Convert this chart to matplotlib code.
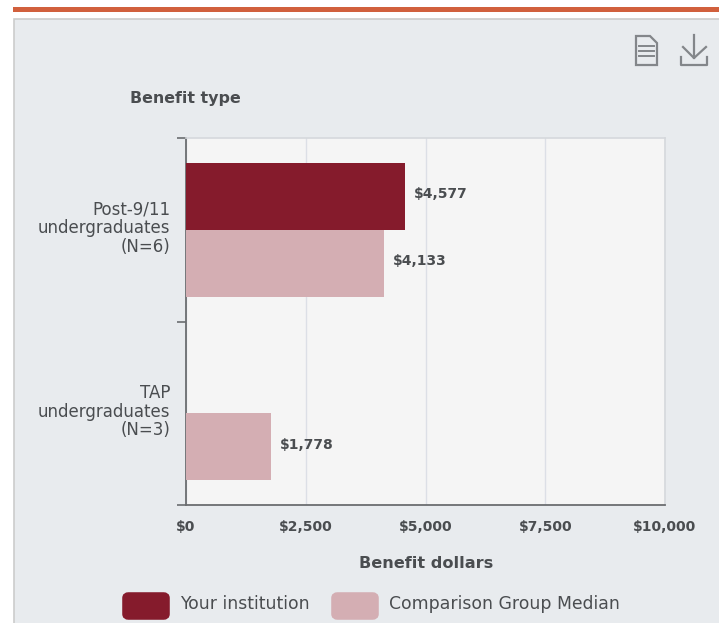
#!/usr/bin/env python3
"""Benefit dollars by type, your institution vs comparison group"""
import matplotlib
matplotlib.use('Agg')
import matplotlib.pyplot as plt
from matplotlib.lines import Line2D
from matplotlib.patches import FancyBboxPatch, Rectangle, Polygon
import numpy as np

# DATA
categories = ['Post-9/11\nundergraduates\n(N=6)', 'TAP\nundergraduates\n(N=3)']
institution = [4577, None]
comparison = [4133, 1778]
xticks = [0, 2500, 5000, 7500, 10000]
series_names = ['Your institution', 'Comparison Group Median']

W, H = 719, 623
BG = '#e8ebee'
PLOT_BG = '#f5f5f5'
DARK = '#851b2c'
LIGHT = '#d4aeb3'
TEXT = '#4a4d50'

plt.rcParams['font.family'] = ['DejaVu Sans']

fig = plt.figure(figsize=(W / 100, H / 100), dpi=100, facecolor='white')


def fx(px):
    return px / W


def fy(py):
    return 1 - py / H


# panel + orange rule
fig.add_artist(Rectangle((fx(13), fy(12)), fx(706), 5 / H, transform=fig.transFigure,
                         color='#d1603d', lw=0, zorder=-2))
fig.add_artist(Rectangle((fx(14), -0.01), fx(710), fy(19) + 0.01, transform=fig.transFigure,
                         facecolor=BG, edgecolor='#cccccc', lw=1.2, zorder=-2))

# PLOT
ax = fig.add_axes([fx(186), fy(505), fx(479), 367 / H], facecolor=PLOT_BG, zorder=2)
y = np.arange(len(categories))
bar_h = 67 / 183.5
label_shift = 0.011  # value labels sit a little above the bar centre

for i, val in enumerate(institution):
    if val is not None:
        ax.barh(y[i] - bar_h / 2, val, height=bar_h, color=DARK, zorder=3)
        ax.text(val + 190, y[i] - bar_h / 2 - label_shift, f"${val:,}", va='center', ha='left',
                fontsize=10, fontweight='bold', color=TEXT)
for i, val in enumerate(comparison):
    # the TAP bar has no institution value but keeps its slot
    ax.barh(y[i] + bar_h / 2, val, height=bar_h, color=LIGHT, zorder=3)
    ax.text(val + 190, y[i] + bar_h / 2 - label_shift, f"${val:,}", va='center', ha='left',
            fontsize=10, fontweight='bold', color=TEXT)

ax.set_xlim(0, 10000)
ax.set_ylim(1.5, -0.5)
ax.set_xticks(xticks)
ax.set_xticklabels([f"${t:,}" for t in xticks], fontsize=10, fontweight='bold', color=TEXT)
ax.tick_params(axis='x', length=0, pad=11)
ax.grid(axis='x', color='#dcdfe6', lw=1, zorder=1)
ax.set_axisbelow(True)

# category ticks sit on the band edges, labels on the band centres
ax.set_yticks([-0.5, 0.5, 1.5])
ax.set_yticklabels([])
ax.tick_params(axis='y', length=6.5, width=1.2, color='#6b6d70')
for i, cat in enumerate(categories):
    ax.text(-0.033, y[i] - 0.008, cat, transform=ax.get_yaxis_transform(), ha='right', va='center',
            fontsize=12, color=TEXT, linespacing=1.05)

for side in ['top', 'right']:
    ax.spines[side].set_color('#d5d8dc')
    ax.spines[side].set_linewidth(1.2)
for side in ['left', 'bottom']:
    ax.spines[side].set_color('#6b6d70')
    ax.spines[side].set_linewidth(1.3)

fig.text(fx(130), fy(98), 'Benefit type', fontsize=11.4, fontweight='bold', color=TEXT,
         ha='left', va='center')
fig.text(fx(426), fy(563), 'Benefit dollars', fontsize=11.6, fontweight='bold', color=TEXT,
         ha='center', va='center')

# legend
for x0, color, name in zip([122, 331], [DARK, LIGHT], series_names):
    fig.add_artist(FancyBboxPatch((fx(x0 + 3), fy(617)), fx(42), 22 / H,
                                  boxstyle='round,pad=0,rounding_size=0.005',
                                  transform=fig.transFigure, facecolor=color,
                                  edgecolor=color, lw=4))
    fig.text(fx(x0 + 58), fy(604), name, fontsize=12.4, color=TEXT, ha='left', va='center')

# document and download icons
ICON = '#83868a'


def icon_line(xs, ys, lw=1.6):
    fig.add_artist(Line2D([fx(v) for v in xs], [fy(v) for v in ys], color=ICON, lw=lw,
                          transform=fig.transFigure))


fig.add_artist(Polygon([(fx(636), fy(36)), (fx(650), fy(36)), (fx(657), fy(43)),
                        (fx(657), fy(65)), (fx(636), fy(65))], closed=True,
                       transform=fig.transFigure, facecolor=BG, edgecolor=ICON, lw=1.6))
for py in [46, 51, 56]:
    icon_line([639, 654], [py, py], 1.4)
icon_line([694, 694], [35, 58])
icon_line([683, 694, 706], [47, 58, 47])
icon_line([681, 681, 707, 707], [57, 65, 65, 57])

plt.savefig('out.png', dpi=100, facecolor='white')
plt.close()
